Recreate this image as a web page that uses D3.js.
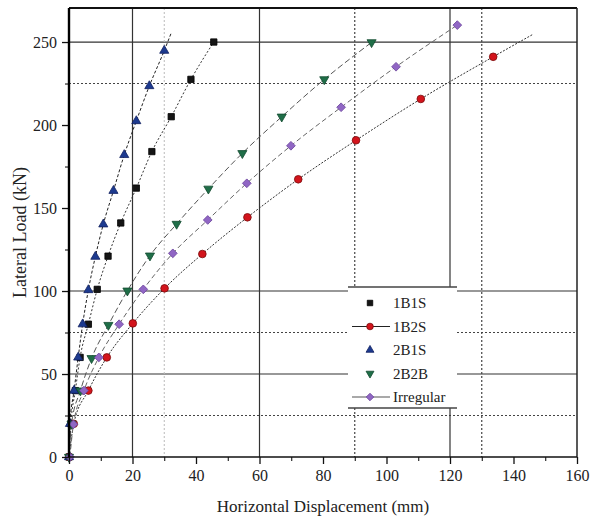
<!DOCTYPE html>
<html>
<head>
<meta charset="utf-8">
<script src="https://cdn.jsdelivr.net/npm/d3@7"></script>
<style>
  body { margin: 0; background: #fff; }
  text { font-family: "Liberation Serif", "Times New Roman", serif; fill: #222; }
</style>
</head>
<body>
<div id="vis"></div>
<script>
// Data (load in kN, displacement in mm)
const loads1B1S = [0, 20, 40, 60, 80, 101, 121, 141, 162, 184, 205, 227.5, 250];
const disp1B1S  = [0, 0.6, 2.0, 3.5, 6.1, 8.9, 12.3, 16.3, 21.2, 26.1, 32.2, 38.4, 45.6];

const loads1B2S = [0, 20, 40, 60, 80.5, 101.6, 122.3, 144.4, 167.3, 190.8, 215.7, 241.1];
const disp1B2S  = [0, 1.5, 6.1, 11.9, 20.1, 30.1, 42.0, 56.2, 72.2, 90.4, 110.8, 133.6];

const loads2B1S = [0, 20, 40, 60, 80, 100.6, 120.7, 140.2, 160.4, 182, 202.4, 223.5, 244.8];
const disp2B1S  = [0, 0.3, 1.6, 2.9, 4.3, 6.1, 8.3, 10.8, 14.0, 17.4, 21.2, 25.3, 30.0];

const loads2B2B = [0, 20, 40, 59.5, 79.5, 100.2, 121.3, 140.4, 161.6, 183, 205, 227.5, 249.8];
const disp2B2B  = [0, 0.8, 3.6, 7.1, 12.4, 18.4, 25.5, 33.9, 43.9, 54.6, 67.0, 80.4, 95.3];

const loadsIrr = [0, 19.7, 40, 60, 80, 101, 122.7, 142.8, 164.9, 187.5, 210.7, 235.1, 260.2];
const dispIrr  = [0.3, 1.4, 4.7, 9.4, 15.8, 23.4, 32.7, 43.7, 56.0, 69.9, 85.7, 103.0, 122.3];

// where the fitted curves run on past the last point
const tail2B1S = [32.1, 255];
const tail1B2S = [146, 254.5];

const seriesNames = ['1B1S', '1B2S', '2B1S', '2B2B', 'Irregular'];
const xTicks = [0, 20, 40, 60, 80, 100, 120, 140, 160];
const yTicks = [0, 50, 100, 150, 200, 250];

const serif = '"Liberation Serif", "Times New Roman", serif';

const margin = { top: 8, right: 13, bottom: 69, left: 69 };
const width = 590 - margin.left - margin.right;
const height = 526 - margin.top - margin.bottom;

const svg = d3.select('#vis').append('svg')
    .attr('width', 590)
    .attr('height', 526)
  .append('g')
    .attr('transform', `translate(${margin.left},${margin.top})`);

const x = d3.scaleLinear().domain([0, 160]).range([0, width]);
const y = d3.scaleLinear().domain([0, 270.5]).range([height, 0]);

// odd reference lines in the original figure
const hSolid = [50, 100, 250], hDot = [25, 75, 225];
const vSolid = [20, 60, 120], vDot = [90, 130], vLight = [30];

svg.selectAll('.hs').data(hSolid).join('line')
    .attr('x1', 0).attr('x2', width)
    .attr('y1', d => y(d)).attr('y2', d => y(d))
    .attr('stroke', '#333').attr('stroke-width', 1.2);
svg.selectAll('.hd').data(hDot).join('line')
    .attr('x1', 0).attr('x2', width)
    .attr('y1', d => y(d)).attr('y2', d => y(d))
    .attr('stroke', '#444').attr('stroke-width', 1.2).attr('stroke-dasharray', '2,2');
svg.selectAll('.vs').data(vSolid).join('line')
    .attr('x1', d => x(d)).attr('x2', d => x(d))
    .attr('y1', 0).attr('y2', height)
    .attr('stroke', '#333').attr('stroke-width', 1.2);
svg.selectAll('.vd').data(vDot).join('line')
    .attr('x1', d => x(d)).attr('x2', d => x(d))
    .attr('y1', 0).attr('y2', height)
    .attr('stroke', '#444').attr('stroke-width', 1.2).attr('stroke-dasharray', '2,2');
svg.selectAll('.vl').data(vLight).join('line')
    .attr('x1', d => x(d)).attr('x2', d => x(d))
    .attr('y1', 0).attr('y2', height)
    .attr('stroke', '#bbb').attr('stroke-width', 1).attr('stroke-dasharray', '2,2');

// series table built from the arrays above
const series = [
  { name: '1B1S', disp: disp1B1S, load: loads1B1S, tail: null, symbol: d3.symbolSquare, size: 40, rot: 0,
    fill: '#151515', stroke: '#000', line: '#333', dash: '2,2', legendLine: false },
  { name: '1B2S', disp: disp1B2S, load: loads1B2S, tail: tail1B2S, symbol: d3.symbolCircle, size: 46, rot: 0,
    fill: '#d3141c', stroke: '#7a0a0a', line: '#333', dash: '2,1.5', legendLine: true },
  { name: '2B1S', disp: disp2B1S, load: loads2B1S, tail: tail2B1S, symbol: d3.symbolTriangle, size: 36, rot: 0,
    fill: '#1d3a8f', stroke: '#102060', line: '#222', dash: '3,2', legendLine: false },
  { name: '2B2B', disp: disp2B2B, load: loads2B2B, tail: null, symbol: d3.symbolTriangle, size: 36, rot: 180,
    fill: '#1f6e48', stroke: '#124a2e', line: '#555', dash: '6,3', legendLine: false },
  { name: 'Irregular', disp: dispIrr, load: loadsIrr, tail: null, symbol: d3.symbolSquare, size: 38, rot: 45,
    fill: '#9066c4', stroke: '#6e479e', line: '#666', dash: '5,3', legendLine: true }
];

const lineGen = d3.line()
    .x(d => x(d[0]))
    .y(d => y(d[1]))
    .curve(d3.curveMonotoneX);

series.forEach(s => {
  const pts = s.disp.map((d, i) => [d, s.load[i]]);
  if (s.tail) pts.push(s.tail);
  svg.append('path')
      .datum(pts)
      .attr('d', lineGen)
      .attr('fill', 'none')
      .attr('stroke', s.line)
      .attr('stroke-width', 1)
      .attr('stroke-dasharray', s.dash);
});

series.forEach(s => {
  const sym = d3.symbol().type(s.symbol).size(s.size);
  svg.selectAll(null)
      .data(s.disp.map((d, i) => [d, s.load[i]]))
      .join('path')
      .attr('d', sym)
      .attr('transform', d => `translate(${x(d[0])},${y(d[1])}) rotate(${s.rot})`)
      .attr('fill', s.fill)
      .attr('stroke', s.stroke)
      .attr('stroke-width', 0.8);
});

// axes
const xAxis = svg.append('g').attr('transform', `translate(0,${height})`)
    .call(d3.axisBottom(x).tickValues(xTicks).tickSize(7).tickPadding(6));
svg.append('g').attr('transform', `translate(0,${height})`)
    .call(d3.axisBottom(x).tickValues(d3.range(10, 160, 20)).tickSize(4).tickFormat(''))
    .select('.domain').remove();
const yAxis = svg.append('g')
    .call(d3.axisLeft(y).tickValues(yTicks).tickSize(7).tickPadding(5));
svg.append('g')
    .call(d3.axisLeft(y).tickValues(d3.range(25, 270, 50)).tickSize(4).tickFormat(''))
    .select('.domain').remove();

[xAxis, yAxis].forEach(a => {
  a.selectAll('text').style('font-family', serif).style('font-size', '16px').attr('fill', '#222');
  a.selectAll('line').attr('stroke', '#111').attr('stroke-width', 1.3);
});
svg.selectAll('.domain').remove();

// frame
svg.append('line').attr('x1', 0).attr('x2', width).attr('y1', 0).attr('y2', 0)
    .attr('stroke', '#111').attr('stroke-width', 2.2);
svg.append('line').attr('x1', width).attr('x2', width).attr('y1', 0).attr('y2', height)
    .attr('stroke', '#222').attr('stroke-width', 1.5);
svg.append('line').attr('x1', 0).attr('x2', width).attr('y1', height).attr('y2', height)
    .attr('stroke', '#111').attr('stroke-width', 1.6);
svg.append('line').attr('x1', 0).attr('x2', 0).attr('y1', 0).attr('y2', height)
    .attr('stroke', '#000').attr('stroke-width', 2.4);

// axis titles
svg.append('text')
    .attr('text-anchor', 'middle')
    .attr('x', width / 2)
    .attr('y', height + 55)
    .style('font-family', serif)
    .style('font-size', '17px')
    .text('Horizontal Displacement (mm)');

svg.append('text')
    .attr('text-anchor', 'middle')
    .attr('transform', 'rotate(-90)')
    .attr('x', -height / 2)
    .attr('y', -43)
    .style('font-family', serif)
    .style('font-size', '18px')
    .text('Lateral Load (kN)');

// legend
const lg = svg.append('g').attr('transform', `translate(${348 - margin.left},${287 - margin.top})`);
lg.append('rect').attr('width', 109).attr('height', 121).attr('fill', '#fff');
lg.append('line').attr('x1', 0).attr('x2', 109).attr('y1', 0).attr('y2', 0)
    .attr('stroke', '#444').attr('stroke-width', 1.3);
lg.append('line').attr('x1', 0).attr('x2', 109).attr('y1', 121).attr('y2', 121)
    .attr('stroke', '#444').attr('stroke-width', 1.3);

series.forEach((s, i) => {
  const ly = 16 + i * 23.5;
  if (s.legendLine) {
    lg.append('line').attr('x1', 4).attr('x2', 42).attr('y1', ly).attr('y2', ly)
        .attr('stroke', s.name === 'Irregular' ? '#555' : '#222').attr('stroke-width', 1.2);
  }
  lg.append('path')
      .attr('d', d3.symbol().type(s.symbol).size(s.size * 0.75)())
      .attr('transform', `translate(22,${ly}) rotate(${s.rot})`)
      .attr('fill', s.fill)
      .attr('stroke', s.stroke)
      .attr('stroke-width', 0.8);
  lg.append('text')
      .attr('x', 45)
      .attr('y', ly + 5)
      .style('font-family', serif)
      .style('font-size', '15px')
      .text(s.name);
});
</script>
</body>
</html>
